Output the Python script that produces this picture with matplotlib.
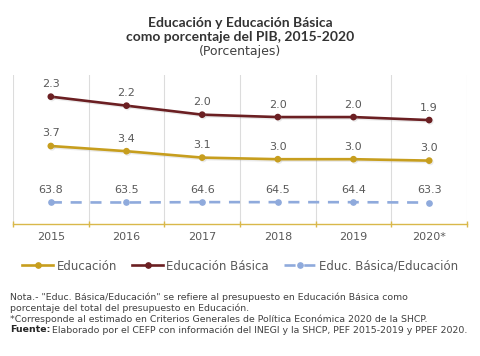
import matplotlib
matplotlib.use("Agg")
import matplotlib.pyplot as plt
from matplotlib.lines import Line2D
import matplotlib.patheffects as pe

years = ["2015", "2016", "2017", "2018", "2019", "2020*"]
educacion = [3.70, 3.44, 3.12, 3.04, 3.04, 2.97]
basica = [2.33, 2.18, 2.03, 1.99, 1.99, 1.94]
ratio = [63.8, 63.5, 64.6, 64.5, 64.4, 63.3]

C_EDU = "#C79E1E"
C_BAS = "#6B1F22"
C_RAT = "#8FAADC"
C_TXT = "#595959"
FONT = "DejaVu Sans"
plt.rcParams["font.family"] = [FONT]

fig = plt.figure(figsize=(4.8, 3.56), dpi=100)
fig.patch.set_facecolor("white")
ax = fig.add_axes([13 / 480, 1 - 224 / 356, 454 / 480, 149 / 356])
ax2 = ax.twinx()
ax3 = ax.twinx()

x = list(range(len(years)))
ax.set_xlim(-0.5, len(years) - 0.5)
ax.set_ylim(0.208, 2.691)
ax2.set_ylim(-0.2, 7.25)
ax3.set_ylim(0, 440)

shadow = [pe.SimpleLineShadow(offset=(0.8, -1.0), shadow_color="#999999", alpha=0.2), pe.Normal()]

ax.plot(x, basica, color=C_BAS, lw=1.9, marker="o", ms=3.8, path_effects=shadow, zorder=3)
ax2.plot(x, educacion, color=C_EDU, lw=1.9, marker="o", ms=3.8, path_effects=shadow, zorder=3)
l3, = ax3.plot(x, ratio, color=C_RAT, lw=1.9, marker="o", ms=3.8, zorder=3)
l3.set_dashes([4.2, 3.3])

for a, vals in ((ax, basica), (ax2, educacion), (ax3, ratio)):
    for i, v in zip(x, vals):
        a.annotate("{:.1f}".format(v), (i, v), xytext=(0, 9), textcoords="offset points",
                   ha="center", va="center", fontsize=8, color=C_TXT)

for a in (ax, ax2, ax3):
    a.set_yticks([])
    for s in ("left", "right", "top", "bottom"):
        a.spines[s].set_visible(False)

ax.spines["bottom"].set_visible(True)
ax.spines["bottom"].set_color("#D9B84A")
ax.spines["bottom"].set_linewidth(1.0)
ax.set_xticks(x)
ax.set_xticklabels(years, fontsize=8, color=C_TXT)
ax.tick_params(axis="x", which="major", length=0, pad=6)
bounds = [i - 0.5 for i in range(len(years) + 1)]
ax.set_xticks(bounds, minor=True)
ax.tick_params(axis="x", which="minor", length=5, direction="inout", color="#D9B84A", width=1.0)
ax.grid(axis="x", which="minor", color="#DCDCDC", lw=0.8)
ax.grid(axis="x", which="major", visible=False)
ax.set_axisbelow(True)

handles = [
    Line2D([], [], color=C_EDU, lw=1.9, marker="o", ms=3.8),
    Line2D([], [], color=C_BAS, lw=1.9, marker="o", ms=3.8),
    Line2D([], [], color=C_RAT, lw=1.9, marker="o", ms=3.8, dashes=[4.2, 3.3]),
]
labels = ["Educación", "Educación Básica", "Educ. Básica/Educación"]
leg = fig.legend(handles, labels, loc="center", bbox_to_anchor=(0.5, 1 - 266 / 356), ncol=3,
                 frameon=False, fontsize=8.5, handlelength=2.6, columnspacing=1.3,
                 handletextpad=0.3, borderaxespad=0)
for t in leg.get_texts():
    t.set_color(C_TXT)

TF = ["Lato", "DejaVu Sans"]
fig.text(0.5, 1 - 23 / 356, "Educación y Educación Básica", ha="center", va="center",
         fontsize=10, fontweight="bold", color="#333333", family=TF)
fig.text(0.5, 1 - 37 / 356, "como porcentaje del PIB, 2015-2020", ha="center", va="center",
         fontsize=10, fontweight="bold", color="#333333", family=TF)
fig.text(0.5, 1 - 52 / 356, "(Porcentajes)", ha="center", va="center",
         fontsize=9, color="#404040")

notes = [
    "Nota.- \"Educ. Básica/Educación\" se refiere al presupuesto en Educación Básica como",
    "porcentaje del total del presupuesto en Educación.",
    "*Corresponde al estimado en Criterios Generales de Política Económica 2020 de la SHCP.",
]
ys = [297, 308, 319, 330]
FS = 6.75
for t, yy in zip(notes, ys):
    fig.text(10 / 480, 1 - yy / 356, t, ha="left", va="center", fontsize=FS, color="#404040")
fb = fig.text(10 / 480, 1 - ys[3] / 356, "Fuente:", ha="left", va="center", fontsize=FS,
              fontweight="bold", color="#262626")
r = fig.canvas.get_renderer()
bb = fb.get_window_extent(renderer=r)
fig.text(bb.x1 / fig.bbox.width + 2 / 480, 1 - ys[3] / 356,
         "Elaborado por el CEFP con información del INEGI y la SHCP, PEF 2015-2019 y PPEF 2020.",
         ha="left", va="center", fontsize=FS, color="#404040")

fig.savefig("out.png", dpi=100, facecolor="white")
